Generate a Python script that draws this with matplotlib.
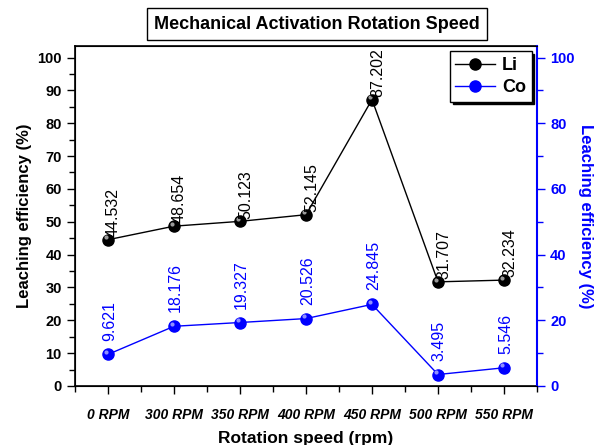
import matplotlib.pyplot as plt
from matplotlib.ticker import MultipleLocator, FixedLocator
import numpy as np

plt.rcParams['font.family'] = ['Liberation Sans', 'DejaVu Sans']
plt.rcParams['font.weight'] = 'bold'

categories = ['0 RPM', '300 RPM', '350 RPM', '400 RPM', '450 RPM', '500 RPM', '550 RPM']
li = [44.532, 48.654, 50.123, 52.145, 87.202, 31.707, 32.234]
co = [9.621, 18.176, 19.327, 20.526, 24.845, 3.495, 5.546]
li_labels = ['44.532', '48.654', '50.123', '52.145', '87.202', '31.707', '32.234']
co_labels = ['9.621', '18.176', '19.327', '20.526', '24.845', '3.495', '5.546']

blue = '#0000ff'
x = np.arange(len(categories))

fig = plt.figure(figsize=(6, 4.45), dpi=100)
ax = fig.add_axes([0.125, 0.1326, 0.77, 0.764])
ax2 = ax.twinx()

ln1, = ax.plot(x, li, color='black', lw=1, marker='o', ms=8,
               mfc='black', mec='black', label='Li')
ln2, = ax2.plot(x, co, color=blue, lw=1, marker='o', ms=8,
                mfc=blue, mec=blue, label='Co')
# sphere highlights
ax.plot(x - 0.03, np.array(li) + 0.7, ls='none', marker='o', ms=3, mfc='#9a9a9a', mec='none')
ax2.plot(x - 0.03, np.array(co) + 0.7, ls='none', marker='o', ms=3, mfc='#8f8fff', mec='none')

for xi, yi, t in zip(x, li, li_labels):
    ax.annotate(t, (xi, yi), xytext=(4, 2), textcoords='offset points',
                rotation=90, ha='center', va='bottom', fontsize=11.5,
                fontweight='normal', color='black')
for xi, yi, t in zip(x, co, co_labels):
    ax2.annotate(t, (xi, yi), xytext=(1, 10), textcoords='offset points',
                 rotation=90, ha='center', va='bottom', fontsize=11.5,
                 fontweight='normal', color=blue)

ax.set_xlim(-0.5, 6.5)
ax.set_ylim(0, 103.5)
ax2.set_ylim(0, 103.5)

ax.set_xticks(x)
ax.set_xticklabels(categories, fontsize=10, style='italic', fontweight='bold')
ax.xaxis.set_minor_locator(FixedLocator(np.arange(-0.5, 7, 1.0)))
ax.yaxis.set_major_locator(MultipleLocator(10))
ax.yaxis.set_minor_locator(MultipleLocator(5))
ax2.yaxis.set_major_locator(MultipleLocator(20))
ax2.yaxis.set_minor_locator(MultipleLocator(10))

ax.tick_params(axis='x', which='major', direction='out', length=6, width=1, pad=10)
ax.tick_params(axis='x', which='minor', direction='out', length=4, width=1)
ax.tick_params(axis='y', which='major', direction='out', length=6, width=1, labelsize=10.5)
ax.tick_params(axis='y', which='minor', direction='out', length=4, width=1)
ax2.tick_params(axis='y', which='major', direction='out', length=6, width=1,
                colors=blue, labelsize=10.5)
ax2.tick_params(axis='y', which='minor', direction='out', length=4, width=1, colors=blue)

for s in ax.spines.values():
    s.set_linewidth(1.2)
ax2.spines['right'].set_color(blue)
ax2.spines['right'].set_linewidth(1.5)

ax.set_ylabel('Leaching efficiency (%)', fontsize=12, fontweight='bold', labelpad=4)
ax2.set_ylabel('Leaching efficiency (%)', fontsize=12, fontweight='bold', color=blue,
               rotation=270, labelpad=13)
ax.set_xlabel('Rotation speed (rpm)', fontsize=12.5, fontweight='bold', labelpad=6)

leg = ax.legend([ln1, ln2], ['Li', 'Co'], loc='upper right', fontsize=13,
                frameon=True, fancybox=False, shadow={'color': 'black', 'alpha': 1},
                handlelength=2.2, borderaxespad=0.3, borderpad=0.3, labelspacing=0.3,
                handletextpad=0.4)
leg.get_frame().set_edgecolor('black')
leg.get_frame().set_linewidth(1)
leg.get_frame().set_alpha(1)

fig.text(0.528, 0.946, 'Mechanical Activation Rotation Speed', ha='center', va='center',
         fontsize=13, fontweight='bold',
         bbox=dict(boxstyle='square,pad=0.4', fc='white', ec='black', lw=1))

fig.savefig('out.png', dpi=100)
